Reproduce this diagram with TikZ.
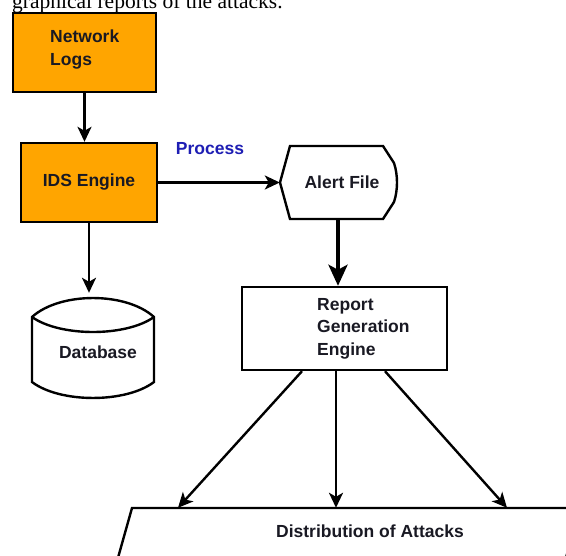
\documentclass[tikz,border=0pt]{standalone}
\usepackage{fontspec}
\setmainfont{Liberation Serif}
\newfontfamily\lblfont{Liberation Sans}
\usetikzlibrary{arrows.meta}
\definecolor{boxorange}{RGB}{255,165,0}
\definecolor{procblue}{RGB}{30,30,180}
\definecolor{lbltext}{RGB}{25,25,35}
\begin{document}
\begin{tikzpicture}[x=1pt,y=-1pt,
  lbl/.style={font=\lblfont\bfseries\fontsize{17.5}{22.5}\selectfont, text=lbltext, inner sep=0pt, align=left},
  boxo/.style={draw=black, line width=2.4pt, fill=boxorange, inner sep=0pt},
  boxw/.style={draw=black, line width=2.4pt, fill=white, inner sep=0pt},
  anchorbox/.style={inner sep=0pt, draw=none},
  conn/.style={line width=2.4pt, -{Stealth[length=15pt,width=14pt,inset=4pt]}},
  thickconn/.style={line width=4.5pt, -{Stealth[length=21pt,width=19pt,inset=5pt]}},
  shapeline/.style={line width=2.4pt, line join=miter}
]
\useasboundingbox (0,0) rectangle (566,556);
\clip (0,0) rectangle (566,556);
\fill[white] (0,0) rectangle (566,556);

% caption line (cut at top)
\node[anchor=base west, inner sep=0pt, font=\fontsize{21.5}{24}\selectfont] (caption) at (12,8.5) {graphical reports of the attacks.};

% Network Logs
\node[boxo, minimum width=143pt, minimum height=79pt] (net) at (84.5,52.5) {};
\node[lbl, anchor=north west] (nettxt) at (50,30) {Network\\Logs};

% IDS Engine
\node[boxo, lbl, minimum width=136pt, minimum height=79pt] (ids) at (89,182.5) {IDS Engine};

% Process label
\node[lbl, text=procblue] (proc) at (210,149) {Process};

% Alert File (display shape)
\draw[shapeline, fill=white] (280,182.5) -- (290,146) -- (383,146) -- (394,163)
  .. controls (398,175) and (398,190) .. (394,202) -- (383,219) -- (290,219) -- cycle;
\node[anchorbox, minimum width=116pt, minimum height=73pt] (alert) at (338,182.5) {};
\node[lbl] (alerttxt) at (342,182) {Alert File};

% Database (cylinder)
\draw[shapeline, fill=white] (32,317) .. controls (60,291.7) and (126,291.7) .. (154,317)
  -- (154,382) .. controls (126,403.3) and (60,403.3) .. (32,382) -- cycle;
\draw[shapeline] (32,317) .. controls (60,337) and (126,337) .. (154,317);
\node[anchorbox, minimum width=122pt, minimum height=100pt] (db) at (93,348) {};
\node[lbl] (dbtxt) at (98,352.5) {Database};

% Report Generation Engine
\node[boxw, minimum width=205pt, minimum height=83pt] (rep) at (344.5,328.5) {};
\node[lbl, anchor=north west] (reptxt) at (317,298) {Report\\Generation\\Engine};

% Distribution of Attacks (parallelogram, cut at right and bottom)
\draw[shapeline, fill=white] (132,508) -- (580,508) -- (562,572) -- (114,572) -- cycle;
\node[anchorbox, minimum width=446pt, minimum height=52pt] (dist) at (355,534) {};
\node[lbl] (disttxt) at (370,531.5) {Distribution of Attacks};

% connectors
\draw[conn] (net.south) -- (net.south |- ids.north);
\draw[conn] (ids.east) -- (alert.west);
\draw[conn, shorten >=5pt] (ids.south) -- (ids.south |- db.north);
\draw[thickconn] (alert.south) -- (alert.south |- rep.north);
\draw[conn] ([xshift=-42.5pt]rep.south) -- ([xshift=-177pt]dist.north);
\draw[conn] ([xshift=-8.5pt]rep.south) -- ([xshift=-19pt]dist.north);
\draw[conn] ([xshift=40.5pt]rep.south) -- ([xshift=152pt]dist.north);
\end{tikzpicture}
\end{document}
